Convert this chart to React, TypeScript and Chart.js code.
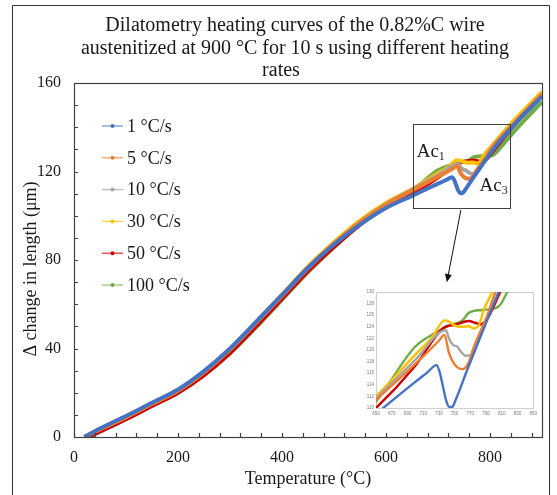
import React, { useEffect, useRef } from "react";
import { Chart, registerables } from "chart.js";

Chart.register(...registerables);

const FONT = "'Liberation Serif', 'Times New Roman', serif";
const TEXT = "#1a1a1a";

const titleLines = [
  "Dilatometry heating curves of the 0.82%C wire",
  "austenitized at 900 °C for 10 s using different heating",
  "rates",
];
const titleCenters = [295, 295, 281];
const xAxisTitle = "Temperature (°C)";
const yAxisTitle = "Δ change in length (μm)";

const seriesLabels = ["1 °C/s", "5 °C/s", "10 °C/s", "30 °C/s", "50 °C/s", "100 °C/s"];
const seriesColors = ["#4472C4", "#ED7D31", "#A5A5A5", "#FFC000", "#D00000", "#70AD47"];

// 1 °C/s
const temp1 = [20, 50, 100, 150, 200, 250, 300, 350, 400, 450, 500, 550, 600, 650, 700, 715, 727, 731, 735, 739, 743, 747, 751, 765, 775, 785, 791, 800, 806, 850, 900];
const len1 = [0, 3.8, 9.5, 15.5, 21.5, 29.8, 40, 52, 64.2, 76.5, 87, 96, 103.5, 109, 114.5, 116.1, 117.4, 116.2, 113.8, 111.4, 110.2, 110.2, 111.3, 116.2, 119.6, 123, 125, 128, 130, 142, 154];
// 5 °C/s
const temp5 = [20, 50, 100, 150, 200, 250, 300, 350, 400, 450, 500, 550, 600, 650, 700, 730, 737, 743, 750, 760, 767, 775, 784, 792, 802, 850, 900];
const len5 = [0, 3.6, 9.2, 15.2, 21.2, 29.5, 39.8, 51.8, 64, 76.5, 87.5, 97, 105, 111.4, 117.6, 121.6, 122.6, 119.4, 117.5, 116.7, 117.6, 120.7, 123.6, 126.1, 130, 142.5, 155];
// 10 °C/s
const temp10 = [20, 50, 100, 150, 200, 250, 300, 350, 400, 450, 500, 550, 600, 650, 700, 739, 743, 748, 754, 758, 764, 770, 776, 785, 793, 802, 850, 900];
const len10 = [0, 3.6, 9.2, 15.2, 21.2, 29.5, 39.7, 51.6, 63.8, 76.3, 87.3, 97, 105.2, 111.7, 118.3, 123.4, 121.9, 120.9, 120.5, 119.7, 119, 119.1, 120.9, 123.4, 126.3, 130, 142.5, 155];
// 30 °C/s
const temp30 = [20, 50, 100, 150, 200, 250, 300, 350, 400, 450, 500, 550, 600, 650, 700, 722, 737, 743, 749, 760, 768, 774, 781, 787, 798, 850, 900];
const len30 = [0, 3.5, 9, 15, 21, 29.3, 39.6, 51.8, 64.3, 77, 88, 97.8, 105.8, 112, 119.2, 122.3, 125.1, 124.9, 124.3, 124, 124.1, 123.7, 124.3, 126.9, 130, 144, 156];
// 50 °C/s
const temp50 = [28, 50, 100, 150, 200, 250, 300, 350, 400, 450, 500, 550, 600, 650, 700, 735, 752, 768, 776, 783, 793, 808, 850, 900];
const len50 = [0, 2.5, 8, 14, 20, 28, 38, 50, 62.5, 75, 86, 96, 104.3, 110, 117.3, 123.7, 124.4, 125, 124.7, 124.4, 125.7, 130, 142, 154.5];
// 100 °C/s
const temp100 = [28, 50, 100, 150, 200, 250, 300, 350, 400, 450, 500, 550, 600, 650, 700, 726, 742, 760, 768, 785, 802, 808, 817, 850, 900];
const len100 = [0, 2.6, 8.2, 14.2, 20.2, 28, 37.8, 49.5, 62, 74.5, 85.8, 96, 104, 111.1, 120.6, 123, 124.2, 125.1, 126.4, 126.9, 127.2, 127.8, 130, 139, 151.5];

const seriesTemps = [temp1, temp5, temp10, temp30, temp50, temp100];
const seriesLens = [len1, len5, len10, len30, len50, len100];

// main axes
const mainX = { min: 0, max: 900, step: 200, minor: 40 };
const mainY = { min: 0, max: 160, step: 40, minor: 10 };
// inset axes
const insetX = { min: 650, max: 850, step: 20 };
const insetY = { min: 110, max: 130, step: 2 };

// annotations in data coordinates
const zoomBox = { t0: 652, t1: 838, v0: 103.5, v1: 141.5 };
const arrowPath = { t0: 744, v0: 102.6, t1: 717, v1: 70 };
const ac1Pos = { t: 659, v: 126.6, sub: "1" };
const ac3Pos = { t: 780, v: 111.2, sub: "3" };

function buildDatasets(width: number) {
  return seriesLabels.map((label, i) => ({
    label,
    data: seriesTemps[i].map((t, j) => ({ x: t, y: seriesLens[i][j] })),
    borderColor: seriesColors[i],
    backgroundColor: seriesColors[i],
    borderWidth: width,
    pointRadius: 0,
    cubicInterpolationMode: "monotone" as const,
    fill: false,
  }));
}

const mainDecor = {
  id: "mainDecor",
  beforeDraw(chart: any) {
    const { ctx, width, height } = chart;
    ctx.save();
    ctx.fillStyle = "#fff";
    ctx.fillRect(0, 0, width, height);
    ctx.restore();
  },
  afterDraw(chart: any) {
    const { ctx, chartArea: a } = chart;
    const x = chart.scales.x;
    const y = chart.scales.y;
    ctx.save();
    // plot border
    ctx.strokeStyle = "#404040";
    ctx.lineWidth = 1.2;
    ctx.strokeRect(Math.round(a.left) + 0.5, Math.round(a.top) + 0.5, Math.round(a.right - a.left), Math.round(a.bottom - a.top));
    // inward minor ticks
    ctx.beginPath();
    for (let v = mainX.min; v <= mainX.max; v += mainX.minor) {
      const px = Math.round(x.getPixelForValue(v)) + 0.5;
      ctx.moveTo(px, a.bottom);
      ctx.lineTo(px, a.bottom - 4);
    }
    for (let v = mainY.min; v <= mainY.max; v += mainY.minor) {
      const py = Math.round(y.getPixelForValue(v)) + 0.5;
      ctx.moveTo(a.left, py);
      ctx.lineTo(a.left + 4, py);
    }
    ctx.stroke();
    // outer frame
    ctx.strokeStyle = "#333";
    ctx.lineWidth = 1;
    ctx.beginPath();
    ctx.moveTo(12.5, chart.height);
    ctx.lineTo(12.5, 5.5);
    ctx.lineTo(549.5, 5.5);
    ctx.lineTo(549.5, chart.height);
    ctx.stroke();
    // title
    ctx.fillStyle = TEXT;
    ctx.font = `20px ${FONT}`;
    ctx.textAlign = "center";
    ctx.textBaseline = "middle";
    titleLines.forEach((line, i) => ctx.fillText(line, titleCenters[i], 26 + i * 22.5));
    // y axis title
    ctx.save();
    ctx.translate(31, 269);
    ctx.rotate(-Math.PI / 2);
    ctx.font = `18px ${FONT}`;
    ctx.fillText(yAxisTitle, 0, 0);
    ctx.restore();
    // legend
    ctx.textAlign = "left";
    ctx.font = `18px ${FONT}`;
    chart.data.datasets.forEach((ds: any, i: number) => {
      const cy = 126 + i * 31.8;
      ctx.strokeStyle = ds.borderColor;
      ctx.globalAlpha = 0.8;
      ctx.lineWidth = 1.2;
      ctx.beginPath();
      ctx.moveTo(102, cy);
      ctx.lineTo(123, cy);
      ctx.stroke();
      ctx.globalAlpha = 1;
      ctx.fillStyle = ds.borderColor;
      ctx.beginPath();
      ctx.arc(112.5, cy, 2, 0, Math.PI * 2);
      ctx.fill();
      ctx.fillStyle = TEXT;
      ctx.fillText(ds.label, 127, cy + 1);
    });
    // zoom box
    ctx.strokeStyle = "#404040";
    ctx.lineWidth = 1;
    const bx0 = Math.round(x.getPixelForValue(zoomBox.t0)) + 0.5;
    const bx1 = Math.round(x.getPixelForValue(zoomBox.t1)) + 0.5;
    const by0 = Math.round(y.getPixelForValue(zoomBox.v1)) + 0.5;
    const by1 = Math.round(y.getPixelForValue(zoomBox.v0)) + 0.5;
    ctx.strokeRect(bx0, by0, bx1 - bx0, by1 - by0);
    // arrow
    const ax0 = x.getPixelForValue(arrowPath.t0);
    const ay0 = y.getPixelForValue(arrowPath.v0);
    const ax1 = x.getPixelForValue(arrowPath.t1);
    const ay1 = y.getPixelForValue(arrowPath.v1);
    const ang = Math.atan2(ay1 - ay0, ax1 - ax0);
    ctx.strokeStyle = "#111";
    ctx.fillStyle = "#111";
    ctx.beginPath();
    ctx.moveTo(ax0, ay0);
    ctx.lineTo(ax1 - 6 * Math.cos(ang), ay1 - 6 * Math.sin(ang));
    ctx.stroke();
    ctx.beginPath();
    ctx.moveTo(ax1, ay1);
    ctx.lineTo(ax1 - 8 * Math.cos(ang) + 3.5 * Math.sin(ang), ay1 - 8 * Math.sin(ang) - 3.5 * Math.cos(ang));
    ctx.lineTo(ax1 - 8 * Math.cos(ang) - 3.5 * Math.sin(ang), ay1 - 8 * Math.sin(ang) + 3.5 * Math.cos(ang));
    ctx.closePath();
    ctx.fill();
    // Ac labels
    ctx.fillStyle = TEXT;
    ctx.textBaseline = "alphabetic";
    [ac1Pos, ac3Pos].forEach((p) => {
      const px = x.getPixelForValue(p.t);
      const py = y.getPixelForValue(p.v);
      ctx.font = `19px ${FONT}`;
      ctx.fillText("Ac", px, py);
      const w = ctx.measureText("Ac").width;
      ctx.font = `12px ${FONT}`;
      ctx.fillText(p.sub, px + w, py + 3);
    });
    ctx.restore();
  },
};

const insetDecor = {
  id: "insetDecor",
  beforeDraw(chart: any) {
    const { ctx, width, height } = chart;
    ctx.save();
    ctx.fillStyle = "#fff";
    ctx.fillRect(0, 0, width, height);
    ctx.restore();
  },
  beforeDatasetsDraw(chart: any) {
    const { ctx, chartArea: a } = chart;
    ctx.save();
    ctx.strokeStyle = "#cfcfcf";
    ctx.lineWidth = 1;
    ctx.strokeRect(Math.round(a.left) + 0.5, Math.round(a.top) + 0.5, Math.round(a.right - a.left), Math.round(a.bottom - a.top));
    ctx.restore();
  },
};

export default function App() {
  const mainRef = useRef<HTMLCanvasElement>(null);
  const insetRef = useRef<HTMLCanvasElement>(null);

  useEffect(() => {
    const tickFont = { family: FONT, size: 16 };
    const main = new Chart(mainRef.current!, {
      type: "line",
      data: { datasets: buildDatasets(4) as any },
      options: {
        animation: false,
        responsive: false,
        events: [],
        layout: { padding: { top: 83, right: 15, left: 0, bottom: 0 } },
        plugins: { legend: { display: false }, title: { display: false }, tooltip: { enabled: false } },
        scales: {
          x: {
            type: "linear",
            min: mainX.min,
            max: mainX.max,
            grid: { display: false, drawTicks: false },
            border: { display: false },
            ticks: { stepSize: mainX.step, includeBounds: false, font: tickFont, color: TEXT, padding: 11, maxRotation: 0 },
            title: { display: true, text: xAxisTitle, font: { family: FONT, size: 18 }, color: TEXT, padding: { top: 0, bottom: 5 } },
            afterFit: (s: any) => { s.height = 58; },
          },
          y: {
            type: "linear",
            min: mainY.min,
            max: mainY.max,
            grid: { display: false, drawTicks: false },
            border: { display: false },
            ticks: { stepSize: mainY.step, includeBounds: false, font: tickFont, color: TEXT, padding: 13 },
            afterFit: (s: any) => { s.width = 74; },
          },
        },
      },
      plugins: [mainDecor],
    });

    const smallFont = { family: "'Liberation Sans', Arial, sans-serif", size: 4.5 };
    const inset = new Chart(insetRef.current!, {
      type: "line",
      data: { datasets: buildDatasets(2.4) as any },
      options: {
        animation: false,
        responsive: false,
        events: [],
        layout: { padding: { top: 7, right: 5, left: 0, bottom: 0 } },
        plugins: { legend: { display: false }, title: { display: false }, tooltip: { enabled: false } },
        scales: {
          x: {
            type: "linear",
            min: insetX.min,
            max: insetX.max,
            grid: { display: false, drawTicks: false },
            border: { display: false },
            ticks: { stepSize: insetX.step, includeBounds: false, font: smallFont, color: "#7a7a7a", padding: 3, maxRotation: 0, autoSkip: false },
            afterFit: (s: any) => { s.height = 17; },
          },
          y: {
            type: "linear",
            min: insetY.min,
            max: insetY.max,
            grid: { display: false, drawTicks: false },
            border: { display: false },
            ticks: { stepSize: insetY.step, includeBounds: false, font: smallFont, color: "#7a7a7a", padding: 2, autoSkip: false },
            afterFit: (s: any) => { s.width = 18; },
          },
        },
      },
      plugins: [insetDecor],
    });

    return () => {
      main.destroy();
      inset.destroy();
    };
  }, []);

  return (
    <div style={{ position: "fixed", left: 0, top: 0, width: 557, height: 495, background: "#fff", overflow: "hidden" }}>
      <canvas ref={mainRef} width={557} height={495} style={{ position: "absolute", left: 0, top: 0, width: 557, height: 495 }} />
      <canvas ref={insetRef} width={182} height={140} style={{ position: "absolute", left: 358, top: 285, width: 182, height: 140 }} />
    </div>
  );
}
